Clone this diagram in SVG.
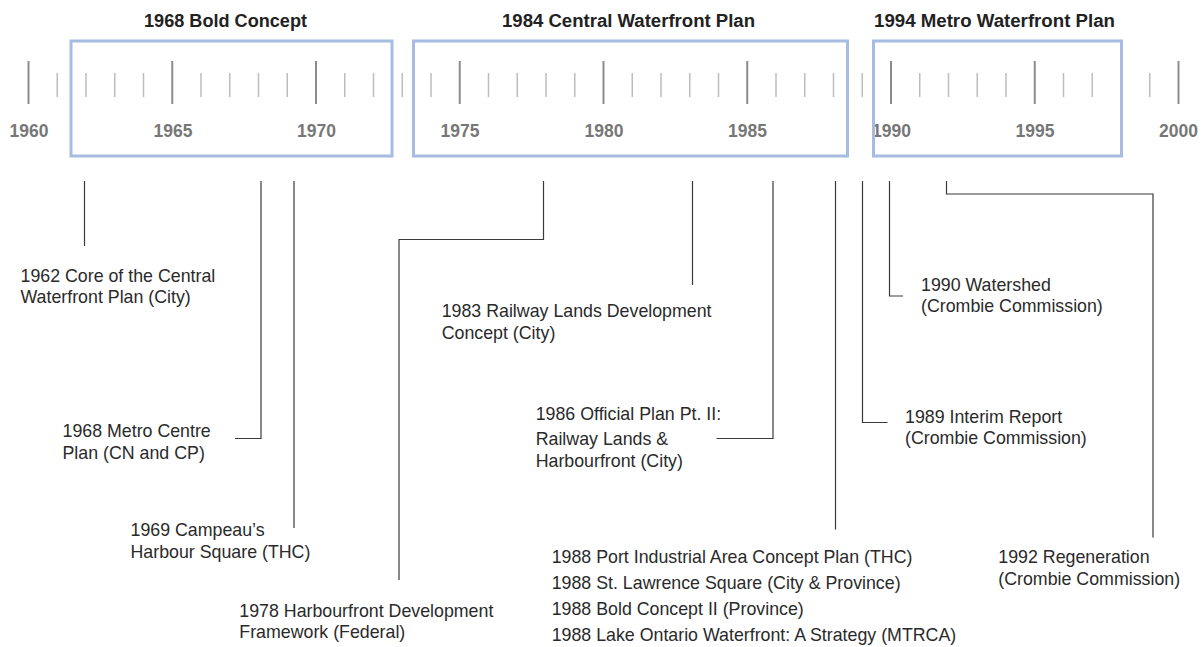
<svg xmlns="http://www.w3.org/2000/svg" width="1204" height="647" viewBox="0 0 1204 647">
<style>
.title{font-family:"Liberation Sans",Arial,sans-serif;font-weight:bold;font-size:18.8px;fill:#222}
.yr{font-family:"Liberation Sans",Arial,sans-serif;font-weight:bold;font-size:17.5px;fill:#777;text-anchor:middle}
.lbl{font-family:"Liberation Sans",Arial,sans-serif;font-size:17.8px;fill:#2a2a2a}
.box{fill:none;stroke:#a6bce2;stroke-width:3}
.maj{stroke:#8c8c8c;stroke-width:2}
.min{stroke:#bdbdbd;stroke-width:1.5}
.con{fill:none;stroke:#3a3a3a;stroke-width:1.2}
</style>
<rect width="1204" height="647" fill="#fff"/>
<g id="axis">
<g class="maj">
<line x1="28.5" y1="61" x2="28.5" y2="104"/>
<line x1="172.25" y1="61" x2="172.25" y2="104"/>
<line x1="316" y1="61" x2="316" y2="104"/>
<line x1="459.75" y1="61" x2="459.75" y2="104"/>
<line x1="603.5" y1="61" x2="603.5" y2="104"/>
<line x1="747.25" y1="61" x2="747.25" y2="104"/>
<line x1="891" y1="61" x2="891" y2="104"/>
<line x1="1034.75" y1="61" x2="1034.75" y2="104"/>
<line x1="1178.5" y1="61" x2="1178.5" y2="104"/>
</g>
<g class="min">
<line x1="57.25" y1="73" x2="57.25" y2="97"/>
<line x1="86" y1="73" x2="86" y2="97"/>
<line x1="114.75" y1="73" x2="114.75" y2="97"/>
<line x1="143.5" y1="73" x2="143.5" y2="97"/>
<line x1="201" y1="73" x2="201" y2="97"/>
<line x1="229.75" y1="73" x2="229.75" y2="97"/>
<line x1="258.5" y1="73" x2="258.5" y2="97"/>
<line x1="287.25" y1="73" x2="287.25" y2="97"/>
<line x1="344.75" y1="73" x2="344.75" y2="97"/>
<line x1="373.5" y1="73" x2="373.5" y2="97"/>
<line x1="402.25" y1="73" x2="402.25" y2="97"/>
<line x1="431" y1="73" x2="431" y2="97"/>
<line x1="488.5" y1="73" x2="488.5" y2="97"/>
<line x1="517.25" y1="73" x2="517.25" y2="97"/>
<line x1="546" y1="73" x2="546" y2="97"/>
<line x1="574.75" y1="73" x2="574.75" y2="97"/>
<line x1="632.25" y1="73" x2="632.25" y2="97"/>
<line x1="661" y1="73" x2="661" y2="97"/>
<line x1="689.75" y1="73" x2="689.75" y2="97"/>
<line x1="718.5" y1="73" x2="718.5" y2="97"/>
<line x1="776" y1="73" x2="776" y2="97"/>
<line x1="804.75" y1="73" x2="804.75" y2="97"/>
<line x1="833.5" y1="73" x2="833.5" y2="97"/>
<line x1="862.25" y1="73" x2="862.25" y2="97"/>
<line x1="919.75" y1="73" x2="919.75" y2="97"/>
<line x1="948.5" y1="73" x2="948.5" y2="97"/>
<line x1="977.25" y1="73" x2="977.25" y2="97"/>
<line x1="1006" y1="73" x2="1006" y2="97"/>
<line x1="1063.5" y1="73" x2="1063.5" y2="97"/>
<line x1="1092.25" y1="73" x2="1092.25" y2="97"/>
<line x1="1121" y1="73" x2="1121" y2="97"/>
<line x1="1149.75" y1="73" x2="1149.75" y2="97"/>
</g>
<text class="yr" x="29" y="137">1960</text>
<text class="yr" x="173" y="137">1965</text>
<text class="yr" x="316.5" y="137">1970</text>
<text class="yr" x="460" y="137">1975</text>
<text class="yr" x="604" y="137">1980</text>
<text class="yr" x="747.5" y="137">1985</text>
<text class="yr" x="891.5" y="137">1990</text>
<text class="yr" x="1035" y="137">1995</text>
<text class="yr" x="1178.5" y="137">2000</text>
</g>
<g id="period-1968">
<rect class="box" x="71" y="41" width="321" height="115"/>
<text class="title" x="144" y="27" textLength="163" lengthAdjust="spacingAndGlyphs">1968 Bold Concept</text>
</g>
<g id="period-1984">
<rect class="box" x="413.5" y="41" width="434" height="115"/>
<text class="title" x="502" y="27" textLength="253" lengthAdjust="spacingAndGlyphs">1984 Central Waterfront Plan</text>
</g>
<g id="period-1994">
<rect class="box" x="873.5" y="41" width="248" height="115"/>
<text class="title" x="874" y="27" textLength="241" lengthAdjust="spacingAndGlyphs">1994 Metro Waterfront Plan</text>
</g>
<g id="connectors" class="con">
<path d="M84.5 181V246"/>
<path d="M261 181V438.5H235"/>
<path d="M294 181V528"/>
<path d="M543.5 181V239.5H399V580"/>
<path d="M692.5 181V285"/>
<path d="M773 181V438.5H716.5"/>
<path d="M835.5 181V529.5"/>
<path d="M862.5 181V422.5H887.5"/>
<path d="M889.5 181V296H903"/>
<path d="M946.5 181V194H1153V537.5"/>
</g>
<g id="ev-1962">
<text class="lbl" x="20.5" y="281.7">1962 Core of the Central</text>
<text class="lbl" x="20.5" y="303.2">Waterfront Plan (City)</text>
</g>
<g id="ev-1968">
<text class="lbl" x="62.5" y="436.7">1968 Metro Centre</text>
<text class="lbl" x="62.5" y="458.7">Plan (CN and CP)</text>
</g>
<g id="ev-1969">
<text class="lbl" x="130.5" y="536">1969 Campeau’s</text>
<text class="lbl" x="130.5" y="557.5">Harbour Square (THC)</text>
</g>
<g id="ev-1978">
<text class="lbl" x="239.3" y="616.7">1978 Harbourfront Development</text>
<text class="lbl" x="239.3" y="638">Framework (Federal)</text>
</g>
<g id="ev-1983">
<text class="lbl" x="441.7" y="317.3">1983 Railway Lands Development</text>
<text class="lbl" x="441.7" y="339">Concept (City)</text>
</g>
<g id="ev-1986">
<text class="lbl" x="535.7" y="420">1986 Official Plan Pt. II:</text>
<text class="lbl" x="535.7" y="444.5">Railway Lands &amp;</text>
<text class="lbl" x="535.7" y="466.5">Harbourfront (City)</text>
</g>
<g id="ev-1988">
<text class="lbl" x="551.7" y="562.7">1988 Port Industrial Area Concept Plan (THC)</text>
<text class="lbl" x="551.7" y="588.5">1988 St. Lawrence Square (City &amp; Province)</text>
<text class="lbl" x="551.7" y="615">1988 Bold Concept II (Province)</text>
<text class="lbl" x="551.7" y="641">1988 Lake Ontario Waterfront: A Strategy (MTRCA)</text>
</g>
<g id="ev-1989">
<text class="lbl" x="905" y="422.7">1989 Interim Report</text>
<text class="lbl" x="905" y="443.7">(Crombie Commission)</text>
</g>
<g id="ev-1990">
<text class="lbl" x="921" y="290.7">1990 Watershed</text>
<text class="lbl" x="921" y="311.7">(Crombie Commission)</text>
</g>
<g id="ev-1992">
<text class="lbl" x="998.3" y="563.3">1992 Regeneration</text>
<text class="lbl" x="998.3" y="584.5">(Crombie Commission)</text>
</g>
</svg>
